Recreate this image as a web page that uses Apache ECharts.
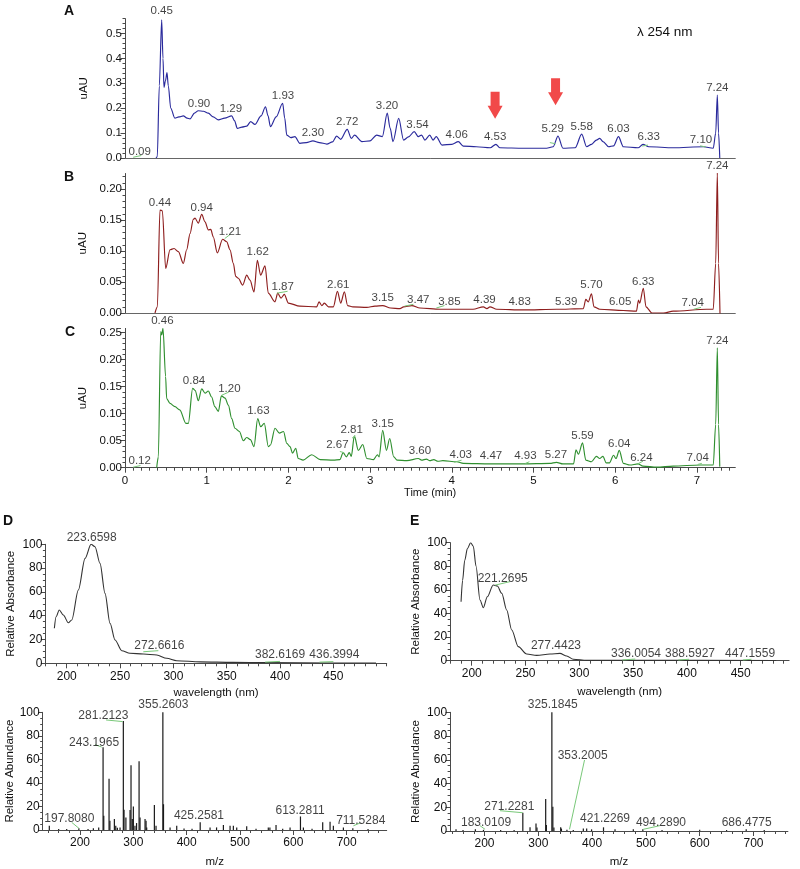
<!DOCTYPE html>
<html><head><meta charset="utf-8">
<script src="https://cdn.jsdelivr.net/npm/echarts@6/dist/echarts.min.js"></script>
<style>html,body{margin:0;padding:0;background:#fff}#c{width:800px;height:869px}</style>
</head><body><div id="c"></div>
<script>
// ---------- Chromatogram traces [time (min), uAU] ----------
const traceA = [[0.38,0],[0.395,0.005],[0.42,0.29],[0.449,0.555],[0.465,0.40],[0.477,0.284],[0.495,0.31],[0.514,0.343],[0.53,0.29],[0.56,0.20],[0.61,0.16],[0.66,0.165],[0.714,0.169],[0.76,0.16],[0.796,0.157],[0.85,0.18],[0.897,0.19],[0.96,0.188],[1.02,0.18],[1.08,0.165],[1.142,0.153],[1.22,0.16],[1.306,0.169],[1.34,0.15],[1.375,0.119],[1.43,0.124],[1.49,0.128],[1.538,0.146],[1.59,0.135],[1.665,0.169],[1.72,0.206],[1.75,0.17],[1.78,0.126],[1.85,0.165],[1.93,0.22],[1.955,0.16],[1.98,0.092],[2.03,0.082],[2.08,0.086],[2.14,0.059],[2.22,0.062],[2.30,0.069],[2.38,0.062],[2.47,0.056],[2.54,0.065],[2.59,0.088],[2.64,0.075],[2.72,0.115],[2.77,0.079],[2.81,0.092],[2.90,0.066],[3.0,0.069],[3.08,0.092],[3.15,0.086],[3.21,0.18],[3.245,0.12],[3.28,0.066],[3.35,0.159],[3.41,0.072],[3.47,0.085],[3.54,0.106],[3.59,0.086],[3.63,0.092],[3.67,0.072],[3.73,0.092],[3.77,0.072],[3.81,0.086],[3.88,0.052],[4.0,0.055],[4.08,0.066],[4.14,0.048],[4.30,0.045],[4.47,0.041],[4.54,0.055],[4.59,0.041],[4.875,0.039],[5.16,0.039],[5.24,0.045],[5.30,0.088],[5.36,0.039],[5.51,0.041],[5.59,0.096],[5.65,0.045],[5.71,0.055],[5.77,0.072],[5.81,0.079],[5.85,0.066],[5.92,0.045],[5.98,0.049],[6.04,0.086],[6.10,0.045],[6.28,0.041],[6.34,0.055],[6.41,0.045],[6.71,0.041],[7.08,0.045],[7.20,0.039],[7.23,0.10],[7.25,0.253],[7.265,0.10],[7.28,0.0]];
const traceB = [[0.367,0],[0.396,0.010],[0.428,0.166],[0.457,0.165],[0.498,0.072],[0.551,0.102],[0.60,0.104],[0.653,0.099],[0.714,0.080],[0.755,0.102],[0.796,0.128],[0.836,0.151],[0.857,0.153],[0.897,0.145],[0.939,0.159],[0.979,0.147],[1.02,0.134],[1.05,0.135],[1.08,0.123],[1.13,0.097],[1.195,0.119],[1.245,0.115],[1.285,0.102],[1.326,0.080],[1.355,0.059],[1.387,0.056],[1.44,0.045],[1.49,0.061],[1.53,0.053],[1.579,0.034],[1.62,0.085],[1.66,0.061],[1.714,0.076],[1.754,0.032],[1.836,0.018],[1.869,0.032],[1.91,0.024],[1.95,0.030],[2.0,0.016],[2.14,0.011],[2.346,0.010],[2.375,0.018],[2.41,0.012],[2.44,0.016],[2.49,0.010],[2.55,0.010],[2.60,0.035],[2.64,0.016],[2.685,0.034],[2.725,0.012],[2.79,0.010],[2.96,0.009],[3.06,0.011],[3.154,0.012],[3.25,0.008],[3.366,0.007],[3.41,0.010],[3.51,0.012],[3.61,0.008],[3.855,0.006],[4.26,0.006],[4.386,0.010],[4.43,0.007],[4.467,0.010],[4.55,0.006],[4.875,0.005],[5.284,0.006],[5.61,0.007],[5.64,0.022],[5.67,0.018],[5.71,0.031],[5.74,0.010],[5.81,0.006],[6.10,0.004],[6.26,0.003],[6.285,0.021],[6.30,0.016],[6.344,0.040],[6.377,0.010],[6.45,0.0],[6.59,0.0],[6.71,0.003],[7.12,0.006],[7.20,0.006],[7.23,0.08],[7.25,0.226],[7.265,0.08],[7.283,-0.002]];
const traceC = [[0.388,0],[0.408,0.020],[0.437,0.252],[0.45,0.246],[0.465,0.258],[0.497,0.169],[0.51,0.128],[0.551,0.119],[0.612,0.113],[0.67,0.107],[0.746,0.082],[0.775,0.082],[0.828,0.147],[0.86,0.143],[0.897,0.124],[0.939,0.146],[0.98,0.138],[1.02,0.142],[1.06,0.131],[1.10,0.113],[1.142,0.104],[1.18,0.133],[1.225,0.129],[1.265,0.116],[1.306,0.091],[1.346,0.073],[1.40,0.067],[1.448,0.050],[1.49,0.056],[1.535,0.052],[1.579,0.039],[1.624,0.091],[1.66,0.076],[1.705,0.082],[1.754,0.039],[1.78,0.042],[1.836,0.073],[1.89,0.064],[1.94,0.067],[1.98,0.045],[2.02,0.039],[2.05,0.027],[2.09,0.036],[2.12,0.017],[2.18,0.014],[2.285,0.024],[2.39,0.015],[2.55,0.014],[2.63,0.015],[2.67,0.028],[2.71,0.020],[2.745,0.028],[2.77,0.021],[2.807,0.059],[2.856,0.032],[2.91,0.043],[2.96,0.017],[3.04,0.015],[3.09,0.024],[3.11,0.020],[3.154,0.069],[3.20,0.032],[3.24,0.054],[3.29,0.020],[3.33,0.014],[3.45,0.013],[3.59,0.017],[3.63,0.014],[3.69,0.016],[3.73,0.013],[3.78,0.015],[3.83,0.012],[3.89,0.013],[4.06,0.011],[4.14,0.008],[4.47,0.007],[4.875,0.007],[5.20,0.008],[5.28,0.010],[5.36,0.007],[5.49,0.007],[5.52,0.033],[5.55,0.025],[5.60,0.046],[5.64,0.014],[5.71,0.011],[5.77,0.021],[5.81,0.017],[5.85,0.021],[5.89,0.009],[5.93,0.009],[5.98,0.023],[6.01,0.017],[6.05,0.032],[6.10,0.008],[6.18,0.005],[6.28,0.007],[6.34,0.003],[6.51,0.001],[6.71,0.003],[7.04,0.005],[7.20,0.005],[7.23,0.08],[7.25,0.222],[7.265,0.08],[7.28,0.002]];

// ---------- Peak labels [time, uAU at label centre, text] ----------
const labelsA = [[0.18,0.025,'0.09'],[0.449,0.59,'0.45'],[0.906,0.217,'0.90'],[1.297,0.197,'1.29'],[1.934,0.249,'1.93'],[2.30,0.10,'2.30'],[2.72,0.145,'2.72'],[3.207,0.209,'3.20'],[3.58,0.133,'3.54'],[4.06,0.092,'4.06'],[4.53,0.084,'4.53'],[5.235,0.116,'5.29'],[5.59,0.126,'5.58'],[6.04,0.116,'6.03'],[6.41,0.084,'6.33'],[7.05,0.072,'7.10'],[7.25,0.281,'7.24']];
const labelsB = [[0.428,0.178,'0.44'],[0.939,0.170,'0.94'],[1.285,0.131,'1.21'],[1.624,0.098,'1.62'],[1.93,0.042,'1.87'],[2.61,0.046,'2.61'],[3.154,0.025,'3.15'],[3.59,0.021,'3.47'],[3.97,0.018,'3.85'],[4.40,0.022,'4.39'],[4.83,0.018,'4.83'],[5.40,0.018,'5.39'],[5.71,0.045,'5.70'],[6.06,0.018,'6.05'],[6.344,0.050,'6.33'],[6.95,0.016,'7.04'],[7.25,0.237,'7.24']];
const labelsC = [[0.18,0.013,'0.12'],[0.457,0.272,'0.46'],[0.845,0.161,'0.84'],[1.277,0.146,'1.20'],[1.632,0.106,'1.63'],[2.60,0.043,'2.67'],[2.775,0.070,'2.81'],[3.154,0.081,'3.15'],[3.61,0.031,'3.60'],[4.11,0.024,'4.03'],[4.48,0.022,'4.47'],[4.90,0.022,'4.93'],[5.275,0.024,'5.27'],[5.60,0.059,'5.59'],[6.05,0.045,'6.04'],[6.32,0.019,'6.24'],[7.01,0.019,'7.04'],[7.25,0.235,'7.24']];
const arrowsA = [[4.53,0.212],[5.27,0.266]];
// small green peak-marker segments in the chromatograms
const leadA = [[[0.10,0.003],[0.20,0.010]],[[5.20,0.062],[5.27,0.057]],[[6.33,0.048],[6.40,0.052]],[[7.04,0.049],[7.11,0.044]]];
const leadB = [[[1.22,0.120],[1.29,0.127]],[[1.86,0.032],[1.99,0.035]],[[3.42,0.011],[3.53,0.014]],[[3.81,0.008],[3.91,0.012]],[[6.96,0.006],[7.05,0.009]]];
const leadC = [[[0.10,0.001],[0.19,0.004]],[[1.18,0.134],[1.27,0.140]],[[2.63,0.030],[2.68,0.028]],[[2.78,0.055],[2.82,0.059]],[[4.03,0.010],[4.12,0.014]],[[4.90,0.008],[4.95,0.011]],[[6.26,0.006],[6.34,0.012]],[[7.01,0.006],[7.06,0.008]]];

// ---------- UV spectra [nm, relative absorbance] ----------
const uvD = [[188.4,29.4],[190,39],[193,44.8],[196.8,40.6],[201.5,34.1],[204.7,36.4],[210.9,61.6],[217.2,88.2],[222.8,100],[226.5,98],[231.2,84],[235.9,58.8],[240.6,33.6],[245.3,19.6],[251.6,10.6],[259.3,8.4],[271.8,7.8],[284.4,7.0],[293.7,4.2],[303.1,2.2],[325,1.2],[356,0.8],[387,0.6],[450,0.3],[490,0.3]];
const uvE = [[190.1,50],[191.5,68],[193.5,85],[196,95],[199,100],[201.5,97],[204,80],[207.7,51.4],[210.8,44.9],[214.5,54.2],[220,64.2],[223.8,63.3],[227.9,57.1],[232.5,43],[237.2,26],[243.3,11.9],[251.1,5.7],[260.4,4.5],[272.8,5.7],[282,6.2],[288.3,4.0],[294.4,1.2],[307,0.3],[350,0.3],[483,0.2]];
const uvLabelsD = [[223.4,105.9,'223.6598'],[286.8,14.5,'272.6616'],[400,7.0,'382.6169'],[450.9,7.0,'436.3994']];
const uvLabelsE = [[228.8,69.2,'221.2695'],[278.3,12.5,'277.4423'],[352.7,5.7,'336.0054'],[402.9,5.7,'388.5927'],[458.7,5.7,'447.1559']];

// ---------- MS spectra [m/z, relative abundance] ----------
const msD = [[142.4,3.6],[160,0.8],[175,0.8],[197.8,1.4],[215,0.8],[225,1.4],[235,2.2],[243.2,70.2],[244.5,12.1],[254.4,43.5],[256,7.9],[264.4,9.3],[267,3.6],[270,2.0],[275,2.2],[281.2,92.7],[282.5,17.1],[286,10.7],[293.8,16.9],[295.6,55.0],[298,9.3],[300,20.0],[303,3.6],[306,5.9],[310.7,58.4],[312.5,10.7],[321.9,9.3],[323.8,7.9],[325,2.2],[339.4,21.3],[342.5,3.6],[355.3,100],[356.5,21.9],[368.8,2.2],[381.3,3.6],[395,1.2],[410,1.0],[425.3,6.5],[443.8,2.2],[456,2.2],[468.8,4.2],[481.3,3.6],[487.5,3.6],[493.8,2.2],[512.5,3.1],[530,1.0],[553,2.2],[556,2.2],[567.5,4.2],[580,1.0],[593.8,2.2],[613.3,11.5],[618.8,2.2],[635,1.0],[655,6.5],[668.8,7.0],[675,3.6],[693.8,2.2],[711.5,1.4],[740,0.8]];
const msE = [[147,1.4],[160,0.8],[183,1.4],[198,1.0],[230,0.8],[255,0.8],[271.2,15.4],[284.6,3.1],[295.7,6.4],[297.5,3],[313.7,27],[315,5],[325.2,100],[327,20.5],[329,3],[341.6,3.1],[343,2],[353.2,1.0],[365,0.8],[383.7,2.2],[389.9,2.2],[399,1.4],[421.2,3.1],[442.6,1.4],[476.6,1.4],[494.3,1.4],[530,0.8],[600,1.0],[650,0.8],[686.5,1.4],[720,0.8]];
const msLabelsD = [[356.3,106.1,'355.2603'],[243.8,96.9,'281.2123'],[226.3,74.4,'243.1965'],[180,9.9,'197.8080'],[423,12.1,'425.2581'],[612.5,16.8,'613.2811'],[726.3,7.9,'711.5284']];
const msLabelsE = [[326.8,106.1,'325.1845'],[382.5,63.2,'353.2005'],[246.1,20.5,'271.2281'],[202.8,7.0,'183.0109'],[424,10.7,'421.2269'],[528,7.0,'494.2890'],[687.4,7.0,'686.4775']];

// leader segments (green) [[x1,y1],[x2,y2]]
const leadUvD = [[[271.8,9.7],[285.9,10.6]],[[386,1.0],[400,1.6]],[[437,1.0],[450,1.4]]];
const leadUvE = [[[221.7,64],[235.6,67]],[[340,0.6],[352,1.4]],[[392,0.6],[402,1.2]],[[452,0.6],[460,1.2]]];
const leadMsD = [[[184.4,6.5],[198,1.4]],[[248.8,93.5],[280,92.1]],[[228.1,72.5],[240.6,70.5]],[[712.6,3.6],[725,5.9]]];
const leadMsE = [[[385.9,59.8],[358,1.4]],[[228.8,17.1],[271,15.4]],[[191.6,4.5],[201,1.4]],[[495,1.4],[526,4.5]]];

// ---------- Tick values ----------
function range(a, b, s) { const r = []; for (let i = 0; a + i * s <= b + 1e-9; i++) r.push(+(a + i * s).toFixed(4)); return r; }
const timeMinor = range(0, 7.4, 0.1);
const yMinorA = range(0, 0.56, 0.02);
const yMinorB = range(0, 0.22, 0.01);
const yMinorC = range(0, 0.25, 0.01);
const relMinor = range(0, 100, 5);
const uvTicksD = range(180, 500, 10);
const uvTicksE = range(180, 490, 10);
const uvTickLabels = [200, 250, 300, 350, 400, 450];
const msTicks = range(140, 760, 20);
const msTickLabels = [200, 300, 400, 500, 600, 700];

const FONT = '"Liberation Sans", Arial, sans-serif';
const AX = '#4a4a4a';
const TXT = '#111';
const chart = echarts.init(document.getElementById('c'), null, {renderer: 'canvas'});

function chromX(i, full) {
  return {gridIndex: i, type: 'value', min: 0, max: 7.47, interval: 1,
    axisLine: {show: true, onZero: false, lineStyle: {color: full ? AX : '#666', width: 1}},
    axisTick: {show: full, length: 5, lineStyle: {color: AX}},
    axisLabel: {show: full, showMaxLabel: false, fontSize: 11.5, color: TXT, margin: 7, fontFamily: FONT},
    splitLine: {show: false},
    name: full ? 'Time (min)' : '', nameLocation: 'middle', nameGap: 20,
    nameTextStyle: {fontSize: 11, color: TXT, fontFamily: FONT}};
}
function chromY(i, max, dec) {
  return {gridIndex: i, type: 'value', min: 0, max: max, interval: dec === 1 ? 0.1 : 0.05,
    axisLine: {show: true, onZero: false, lineStyle: {color: AX}},
    axisTick: {show: true, length: 4.5, lineStyle: {color: AX}},
    axisLabel: {showMaxLabel: false, fontSize: 11.5, color: TXT, margin: 3, fontFamily: FONT,
      formatter: v => v.toFixed(dec)},
    splitLine: {show: false},
    name: 'uAU', nameLocation: 'middle', nameGap: 35,
    nameTextStyle: {fontSize: 11.5, color: TXT, fontFamily: FONT}};
}
function specX(i, min, max, labels, name, gap) {
  return {gridIndex: i, type: 'value', min: min, max: max,
    axisLine: {show: true, onZero: false, lineStyle: {color: AX}},
    axisTick: {show: true, length: 5, customValues: labels, lineStyle: {color: AX}},
    axisLabel: {customValues: labels, fontSize: 12, color: TXT, margin: 7, fontFamily: FONT},
    splitLine: {show: false},
    name: name, nameLocation: 'middle', nameGap: gap,
    nameTextStyle: {fontSize: 11.5, color: TXT, fontFamily: FONT}};
}
function specY(i, name, gap) {
  return {gridIndex: i, type: 'value', min: 0, max: 100, interval: 20,
    axisLine: {show: true, onZero: false, lineStyle: {color: AX}},
    axisTick: {show: true, length: 4.5, lineStyle: {color: AX}},
    axisLabel: {fontSize: 12, color: TXT, margin: 3, fontFamily: FONT},
    splitLine: {show: false},
    name: name, nameLocation: 'middle', nameGap: gap,
    nameTextStyle: {fontSize: 11.5, color: TXT, fontFamily: FONT}};
}
// companion axes that only draw the short minor ticks
function minorX(i, min, max, ticks) {
  return {gridIndex: i, type: 'value', min: min, max: max, position: 'bottom',
    axisLine: {show: false, onZero: false}, axisLabel: {show: false}, splitLine: {show: false},
    axisTick: {show: true, length: 3, customValues: ticks, lineStyle: {color: AX}}};
}
function minorY(i, max, ticks) {
  return {gridIndex: i, type: 'value', min: 0, max: max, position: 'left',
    axisLine: {show: false, onZero: false}, axisLabel: {show: false}, splitLine: {show: false},
    axisTick: {show: true, length: 2.5, customValues: ticks, lineStyle: {color: AX}}};
}
function trace(i, data, color, width) {
  return {type: 'line', xAxisIndex: i, yAxisIndex: i, data: data, symbol: 'none',
    smooth: 0.3, smoothMonotone: 'x', lineStyle: {color: color, width: width || 1.15}, silent: true, z: 3};
}
function labels(i, data, size) {
  return {type: 'scatter', xAxisIndex: i, yAxisIndex: i, data: data, symbolSize: 1, clip: false, silent: true,
    itemStyle: {color: 'rgba(0,0,0,0)'}, z: 6,
    label: {show: true, position: 'inside', formatter: p => p.data[2], color: TXT, fontSize: size || 11.5, fontFamily: FONT}};
}
function sticks(i, data) {
  return {type: 'bar', xAxisIndex: i, yAxisIndex: i, data: data, barWidth: 1.2, silent: true,
    itemStyle: {color: '#1a1a1a'}, z: 3};
}
function leaders(i, segs) {
  return {type: 'lines', coordinateSystem: 'cartesian2d', xAxisIndex: i, yAxisIndex: i, silent: true, z: 4,
    data: segs.map(s => ({coords: s})), lineStyle: {color: '#79c879', width: 1, opacity: 1}};
}

const option = {
  animation: false,
  backgroundColor: '#fff',
  grid: [
    {left: 125, top: 18.6, width: 610.3, height: 139.4},
    {left: 125, top: 173.5, width: 610.3, height: 139.5},
    {left: 125, top: 328.4, width: 610.3, height: 139.3},
    {left: 45.4, top: 544.3, width: 341.3, height: 119},
    {left: 42.7, top: 712.3, width: 344, height: 118.7},
    {left: 450.2, top: 542.7, width: 338.9, height: 118},
    {left: 450.1, top: 712.3, width: 337.8, height: 118.7}
  ],
  xAxis: [
    chromX(0, false), chromX(1, false), chromX(2, true),
    specX(3, 180, 500, uvTickLabels, 'wavelength (nm)', 24),
    specX(4, 130, 775, msTickLabels, 'm/z', 26),
    specX(5, 180, 495, uvTickLabels, 'wavelength (nm)', 25),
    specX(6, 136, 764, msTickLabels, 'm/z', 25),
    minorX(2, 0, 7.47, timeMinor),
    minorX(3, 180, 500, uvTicksD), minorX(4, 130, 775, msTicks),
    minorX(5, 180, 495, uvTicksE), minorX(6, 136, 764, msTicks)
  ],
  yAxis: [
    chromY(0, 0.56, 1), chromY(1, 0.225, 2), chromY(2, 0.258, 2),
    specY(3, 'Relative Absorbance', 29), specY(4, 'Relative Abundance', 26),
    specY(5, 'Relative Absorbance', 28), specY(6, 'Relative Abundance', 28),
    minorY(0, 0.56, yMinorA), minorY(1, 0.225, yMinorB), minorY(2, 0.258, yMinorC),
    minorY(3, 100, relMinor), minorY(4, 100, relMinor), minorY(5, 100, relMinor), minorY(6, 100, relMinor)
  ],
  series: [
    trace(0, traceA, '#2a2a9c'), trace(1, traceB, '#8e1e1e'), trace(2, traceC, '#2f8f2f'),
    leaders(0, leadA), leaders(1, leadB), leaders(2, leadC),
    labels(0, labelsA), labels(1, labelsB), labels(2, labelsC),
    {type: 'scatter', xAxisIndex: 0, yAxisIndex: 0, data: arrowsA, clip: false, silent: true, z: 7,
      symbol: 'path://M3,0L12,0L12,14L15,14L7.5,27L0,14L3,14Z', symbolSize: [15, 27],
      itemStyle: {color: '#ee1c1c'}},
    trace(3, uvD, '#333', 1.1), trace(5, uvE, '#333', 1.1),
    sticks(4, msD), sticks(6, msE),
    leaders(3, leadUvD), leaders(5, leadUvE), leaders(4, leadMsD), leaders(6, leadMsE),
    labels(3, uvLabelsD, 12), labels(5, uvLabelsE, 12), labels(4, msLabelsD, 12), labels(6, msLabelsE, 12)
  ],
  graphic: [
    {type: 'text', left: 64, top: 4, style: {text: 'A', font: 'bold 14px ' + FONT, fill: TXT}},
    {type: 'text', left: 64, top: 170, style: {text: 'B', font: 'bold 14px ' + FONT, fill: TXT}},
    {type: 'text', left: 65, top: 325, style: {text: 'C', font: 'bold 14px ' + FONT, fill: TXT}},
    {type: 'text', left: 3, top: 514, style: {text: 'D', font: 'bold 14px ' + FONT, fill: TXT}},
    {type: 'text', left: 410, top: 514, style: {text: 'E', font: 'bold 14px ' + FONT, fill: TXT}},
    {type: 'text', left: 637, top: 25, style: {text: 'λ 254 nm', font: '13.5px ' + FONT, fill: TXT}}
  ]
};
chart.setOption(option);
</script></body></html>
